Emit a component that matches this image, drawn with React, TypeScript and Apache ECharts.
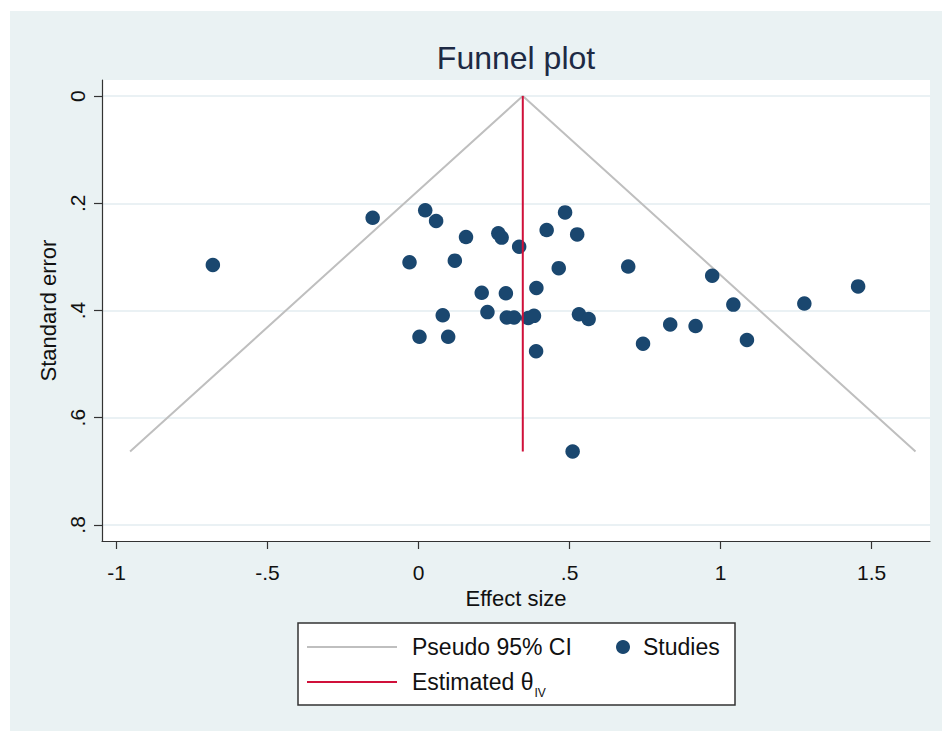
import React, { useEffect, useRef } from "react";
import * as echarts from "echarts";

// Study estimates (effect size, standard error)
const studyEffect = [
  -0.681, -0.152, 0.022, 0.058, -0.03, 0.12, 0.157, 0.264, 0.275, 0.333,
  0.485, 0.424, 0.525, 0.464, 0.694, 0.39, 0.209, 0.289, 0.228, 0.08,
  0.292, 0.316, 0.363, 0.382, 0.531, 0.563, 0.003, 0.098, 0.389, 0.51,
  0.743, 0.833, 0.917, 0.972, 1.042, 1.087, 1.277, 1.455,
];
const studySE = [
  0.315, 0.227, 0.213, 0.233, 0.31, 0.307, 0.263, 0.256, 0.264, 0.281,
  0.217, 0.25, 0.258, 0.321, 0.318, 0.358, 0.367, 0.368, 0.403, 0.409,
  0.413, 0.413, 0.414, 0.41, 0.407, 0.416, 0.449, 0.449, 0.476, 0.663,
  0.462, 0.426, 0.429, 0.335, 0.389, 0.455, 0.387, 0.355,
];

// Pseudo 95% CI funnel (left end, apex, right end)
const funnelEffect = [-0.955, 0.345, 1.645];
const funnelSE = [0.663, 0, 0.663];

// Estimated theta (IV)
const thetaEffect = [0.345, 0.345];
const thetaSE = [0, 0.663];

const xTicks = [-1, -0.5, 0, 0.5, 1, 1.5];
const yTicks = [0, 0.2, 0.4, 0.6, 0.8];

const FONT = "'Liberation Sans', Arial, sans-serif";
const NAVY = "#1A476F";
const RED = "#D0103A";
const GRAY = "#BFBFBF";
const BG = "#EAF2F3";
const TEXT = "#111111";

const fmt = (v: number) => {
  const s = String(Math.round(v * 100) / 100);
  return s.replace(/^(-?)0\./, "$1.");
};

export default function App() {
  const ref = useRef<HTMLDivElement>(null);

  useEffect(() => {
    if (!ref.current) return;
    const chart = echarts.init(ref.current, null, { renderer: "svg" });

    const option: any = {
      animation: false,
      backgroundColor: BG,
      textStyle: { fontFamily: FONT },
      title: {
        text: "Funnel plot",
        left: 516,
        top: 42,
        padding: 0,
        textAlign: "center",
        textStyle: {
          fontSize: 32,
          fontWeight: "normal",
          color: "#1d2a44",
          fontFamily: FONT,
        },
      },
      grid: {
        left: 102,
        right: 12,
        top: 80,
        bottom: 190,
        show: true,
        backgroundColor: "#ffffff",
        borderWidth: 0,
        containLabel: false,
        outerBoundsMode: "none",
      },
      xAxis: {
        type: "value",
        min: -1.048,
        max: 1.693,
        name: "Effect size",
        nameLocation: "middle",
        nameGap: 44,
        nameTextStyle: { fontSize: 22, color: TEXT, fontFamily: FONT },
        axisLine: { show: true, onZero: false, lineStyle: { color: "#333", width: 1.2 } },
        axisTick: { show: true, length: 8, customValues: xTicks, lineStyle: { color: "#333", width: 1.2 } },
        axisLabel: {
          customValues: xTicks,
          formatter: (v: number) => fmt(v),
          fontSize: 21,
          color: TEXT,
          margin: 21,
          fontFamily: FONT,
        },
        splitLine: { show: false },
      },
      yAxis: {
        type: "value",
        inverse: true,
        min: -0.03,
        max: 0.83,
        name: "Standard error",
        nameLocation: "middle",
        nameRotate: 90,
        nameGap: 39,
        nameTextStyle: { fontSize: 22, color: TEXT, fontFamily: FONT },
        axisLine: { show: true, onZero: false, lineStyle: { color: "#333", width: 1.2 } },
        axisTick: { show: true, length: 8, customValues: yTicks, lineStyle: { color: "#333", width: 1.2 } },
        axisLabel: {
          customValues: yTicks,
          formatter: (v: number) => fmt(v),
          rotate: 90,
          fontSize: 21,
          color: TEXT,
          margin: 14,
          fontFamily: FONT,
        },
        splitLine: { show: true, lineStyle: { color: "#E3EDF0", width: 1.5 } },
      },
      series: [
        {
          name: "Pseudo 95% CI",
          type: "line",
          data: funnelEffect.map((x, i) => [x, funnelSE[i]]),
          symbol: "none",
          lineStyle: { color: GRAY, width: 2 },
          z: 1,
          silent: true,
        },
        {
          name: "Studies",
          type: "scatter",
          data: studyEffect.map((x, i) => [x, studySE[i]]),
          symbolSize: 14.5,
          itemStyle: { color: NAVY, opacity: 1 },
          z: 2,
        },
        {
          name: "Estimated θIV",
          type: "line",
          data: thetaEffect.map((x, i) => [x, thetaSE[i]]),
          symbol: "none",
          lineStyle: { color: RED, width: 2 },
          z: 3,
          silent: true,
        },
      ],
      graphic: [
        { type: "rect", shape: { x: 0, y: 0, width: 942, height: 11 }, style: { fill: "#ffffff" }, silent: true },
        { type: "rect", shape: { x: 0, y: 0, width: 10, height: 731 }, style: { fill: "#ffffff" }, silent: true },
        {
          type: "group",
          children: [
            {
              type: "rect",
              shape: { x: 298, y: 623, width: 437, height: 82 },
              style: { fill: "#ffffff", stroke: "#333333", lineWidth: 1.5 },
            },
            {
              type: "line",
              shape: { x1: 307, y1: 647, x2: 397, y2: 647 },
              style: { stroke: GRAY, lineWidth: 2 },
            },
            {
              type: "text",
              x: 412,
              y: 647,
              style: {
                text: "Pseudo 95% CI",
                fontSize: 23,
                fontFamily: FONT,
                fill: TEXT,
                verticalAlign: "middle",
                align: "left",
              },
            },
            {
              type: "circle",
              shape: { cx: 623, cy: 647, r: 7 },
              style: { fill: NAVY },
            },
            {
              type: "text",
              x: 643,
              y: 647,
              style: {
                text: "Studies",
                fontSize: 23,
                fontFamily: FONT,
                fill: TEXT,
                verticalAlign: "middle",
                align: "left",
              },
            },
            {
              type: "line",
              shape: { x1: 307, y1: 682, x2: 397, y2: 682 },
              style: { stroke: RED, lineWidth: 2 },
            },
            {
              type: "text",
              x: 412,
              y: 682,
              style: {
                text: "{a|Estimated θ}{b|IV}",
                fontFamily: FONT,
                fill: TEXT,
                verticalAlign: "middle",
                align: "left",
                rich: {
                  a: { fontSize: 23, fontFamily: FONT, fill: TEXT, lineHeight: 25 },
                  b: { fontSize: 12, fontFamily: FONT, fill: TEXT, verticalAlign: "bottom", lineHeight: 25, padding: [0, 0, -4, 1] },
                },
              },
            },
          ],
        },
      ],
    };

    chart.setOption(option);
    return () => chart.dispose();
  }, []);

  return (
    <div
      ref={ref}
      style={{ position: "absolute", left: 0, top: 0, width: 942, height: 731 }}
    />
  );
}
